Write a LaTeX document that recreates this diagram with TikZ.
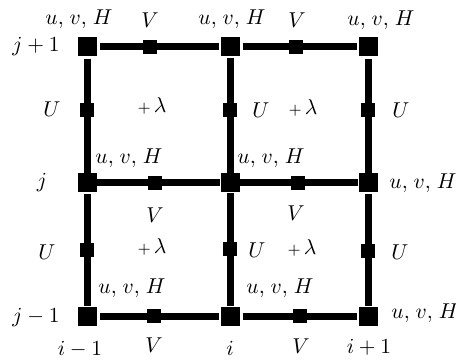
\documentclass[tikz,border=0pt]{standalone}
\usepackage{graphicx}
\begin{document}
\begin{tikzpicture}[x=1pt,y=-1pt,
  big/.style={fill=black,minimum size=19pt,inner sep=0pt},
  small/.style={fill=black,minimum size=13.5pt,inner sep=0pt},
  edge/.style={line width=7pt},
  lab/.style={inner sep=0pt}]
\useasboundingbox (0,0) rectangle (456,361);
\newcommand{\bg}[1]{\scalebox{2.15}{#1}}
\newcommand{\uvh}{\bg{$u,\mskip2mu v,\mskip2mu H$}}
\newcommand{\pl}{\bg{$\scriptstyle+$\kern1.5pt$\lambda$}}
% big nodes
\node[big] (A1) at (87,47) {};
\node[big] (A2) at (230,47) {};
\node[big] (A3) at (368,47) {};
\node[big] (B1) at (87,183) {};
\node[big] (B2) at (230,183) {};
\node[big] (B3) at (368,183) {};
\node[big] (C1) at (87,316) {};
\node[big] (C2) at (230,316) {};
\node[big] (C3) at (368,316) {};
% small V nodes
\node[small] (V1) at (150,47) {};
\node[small] (V2) at (296,47) {};
\node[small] (V3) at (155,183) {};
\node[small] (V4) at (298,183) {};
\node[small] (V5) at (154,316) {};
\node[small] (V6) at (300,316) {};
% small U nodes
\node[small] (U1) at (87,110) {};
\node[small] (U2) at (230,110) {};
\node[small] (U3) at (368,110) {};
\node[small] (U4) at (87,250) {};
\node[small] (U5) at (230,249) {};
\node[small] (U6) at (368,251) {};
% edges
\draw[edge,shorten <=3pt] (A1) -- (V1); \draw[edge,shorten >=1pt] (V1) -- (A2);
\draw[edge,shorten <=3pt] (A2) -- (V2); \draw[edge,shorten >=1pt] (V2) -- (A3);
\draw[edge] (B1) -- (V3); \draw[edge] (V3) -- (B2);
\draw[edge] (B2) -- (V4); \draw[edge] (V4) -- (B3);
\draw[edge,shorten <=3pt] (C1) -- (V5); \draw[edge,shorten >=1pt] (V5) -- (C2);
\draw[edge,shorten <=3pt] (C2) -- (V6); \draw[edge,shorten >=1pt] (V6) -- (C3);
\draw[edge,shorten <=2pt] (A1) -- (U1); \draw[edge] (U1) -- (B1);
\draw[edge,shorten <=1pt] (B1) -- (U4); \draw[edge] (U4) -- (C1);
\draw[edge,shorten <=1pt] (A2) -- (U2); \draw[edge] (U2) -- (B2);
\draw[edge] (B2) -- (U5); \draw[edge] (U5) -- (C2);
\draw[edge,shorten <=2pt] (A3) -- (U3); \draw[edge] (U3) -- (B3);
\draw[edge,shorten <=1pt] (B3) -- (U6); \draw[edge] (U6) -- (C3);
% labels
\node[lab] (l1) at (79,19) {\uvh};
\node[lab] (l2) at (232,19) {\uvh};
\node[lab] (l3) at (381,20) {\uvh};
\node[lab] (l4) at (129,158) {\uvh};
\node[lab] (l5) at (271,158) {\uvh};
\node[lab] (l6) at (423,183) {\uvh};
\node[lab] (l7) at (132,288) {\uvh};
\node[lab] (l8) at (280,288) {\uvh};
\node[lab] (l9) at (425,313) {\uvh};
\node[lab] (t1) at (150,20) {\bg{$V$}};
\node[lab] (t2) at (297,20) {\bg{$V$}};
\node[lab] (t3) at (155,215) {\bg{$V$}};
\node[lab] (t4) at (296,213) {\bg{$V$}};
\node[lab] (t5) at (154,345) {\bg{$V$}};
\node[lab] (t6) at (301,346) {\bg{$V$}};
\node[lab] (s1) at (52,109) {\bg{$U$}};
\node[lab] (s2) at (261,110) {\bg{$U$}};
\node[lab] (s3) at (401,110) {\bg{$U$}};
\node[lab] (s4) at (47,252) {\bg{$U$}};
\node[lab] (s5) at (257,250) {\bg{$U$}};
\node[lab] (s6) at (400,252) {\bg{$U$}};
\node[lab] (p1) at (152,106) {\pl};
\node[lab] (p2) at (303,108) {\pl};
\node[lab] (p3) at (152,247) {\pl};
\node[lab] (p4) at (302,248) {\pl};
\node[lab] (j1) at (36,47) {\bg{$j+1$}};
\node[lab] (j2) at (42,183) {\bg{$j$}};
\node[lab] (j3) at (36,317) {\bg{$j-1$}};
\node[lab] (i1) at (80,349) {\bg{$i-1$}};
\node[lab] (i2) at (230,348) {\bg{$i$}};
\node[lab] (i3) at (369,347) {\bg{$i+1$}};
\end{tikzpicture}
\end{document}
